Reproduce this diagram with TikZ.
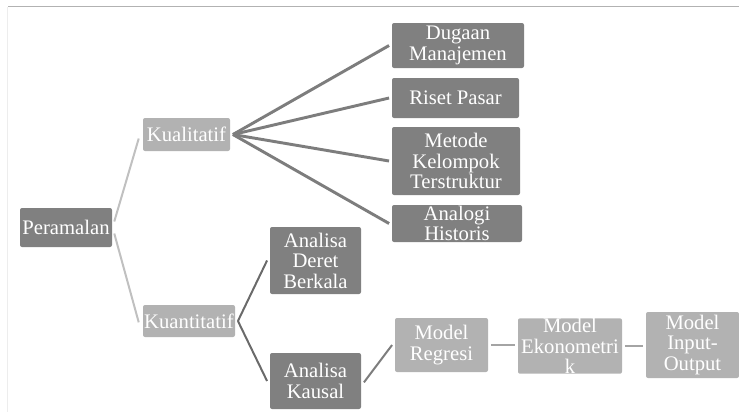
\documentclass[tikz,border=0pt]{standalone}
\usepackage{fontspec}
\setmainfont{Liberation Serif}
\definecolor{darkbox}{RGB}{128,128,128}
\definecolor{lightbox}{RGB}{178,178,178}
\definecolor{darkline}{RGB}{125,125,125}
\definecolor{lightline}{RGB}{192,192,192}
\tikzset{
  box/.style={fill=darkbox, rounded corners=1.5pt, text=white, align=center, inner sep=0pt,
    font=\fontsize{15.5}{15.4}\selectfont},
  lightbx/.style={box, fill=lightbox},
}
\begin{document}
\begin{tikzpicture}[x=0.75pt,y=-0.75pt]
	\useasboundingbox (0,0) rectangle (739,412);
	% frame
	\draw[lightbox, line width=1pt] (8,6.5)--(739,6.5);
	\draw[black!7, line width=0.8pt] (7.5,7)--(7.5,412);
	% first level
	\node[box, minimum width=69pt, minimum height=29.25pt] (pr) at (66,227.5){Peramalan};
	\node[lightbx, minimum width=65.25pt, minimum height=24.75pt] (kl) at (186.5,134.5){Kualitatif};
	\node[lightbx, minimum width=69pt, minimum height=24pt] (kn) at (189,321){Kuantitatif};
	% kualitatif
	\node[box, minimum width=99pt, minimum height=33.75pt] (dm) at (458,45.5){Dugaan\\Manajemen};
	\node[box, minimum width=95.25pt, minimum height=30pt] (rp) at (455.5,98){Riset Pasar};
	\node[box, minimum width=96pt, minimum height=51pt] (mk) at (456,161){Metode\\Kelompok\\Terstruktur};
	\node[box, minimum width=97.5pt, minimum height=27.75pt] (ah) at (457,223.5){Analogi\\Historis};
	% kuantitatif
	\node[box, minimum width=68.25pt, minimum height=50.25pt] (ad) at (315.5,260.5){Analisa\\Deret\\Berkala};
	\node[box, minimum width=68.25pt, minimum height=42pt] (ak) at (315.5,381){Analisa\\Kausal};
	\node[lightbx, minimum width=69.75pt, minimum height=40.5pt] (mr) at (441.5,345){Model\\Regresi};
	\node[lightbx, minimum width=78pt, minimum height=37.5pt] (me) at (570,346){Model\\Ekonometri\\k};
	\node[lightbx, minimum width=69.75pt, minimum height=49.5pt] (mi) at (692.5,345){Model\\Input-\\Output};
	% connectors
	\draw[lightline, line width=1.5pt] (pr.east)++(2,-6)--([xshift=-3pt,yshift=-3pt]kl.west);
	\draw[lightline, line width=1.5pt] (pr.east)++(2,6)--([xshift=-3pt,yshift=-1pt]kn.west);
	\foreach \t in {dm,rp,mk,ah}
		\draw[darkline, line width=2.2pt] ([xshift=2pt]kl.east)--([xshift=-2pt]\t.west);
	\draw[darkline!85!black, line width=1.5pt] ([xshift=2pt]kn.east)--([xshift=-2pt]ad.west);
	\draw[darkline!85!black, line width=1.5pt] ([xshift=2pt]kn.east)--([xshift=-2pt]ak.west);
	\draw[darkline, line width=1.5pt] ([xshift=2pt,yshift=-1pt]ak.east)--([xshift=-2pt]mr.west);
	\draw[darkline!70, line width=1.2pt] ([xshift=2pt]mr.east)--([xshift=-2pt]mr.east-|me.west);
	\draw[darkline!70, line width=1.2pt] ([xshift=2pt]me.east)--([xshift=-2pt]me.east-|mi.west);
\end{tikzpicture}
\end{document}
